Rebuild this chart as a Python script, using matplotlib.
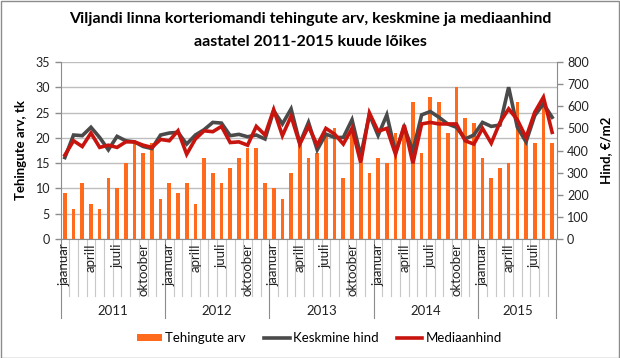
import matplotlib
matplotlib.use("Agg")
import matplotlib.pyplot as plt
from matplotlib.patches import Rectangle
from matplotlib.lines import Line2D
from matplotlib.patches import Patch
import numpy as np

plt.rcParams['font.family'] = ['Lato', 'DejaVu Sans']

years = ["2011", "2012", "2013", "2014", "2015"]
months_per_year = [12, 12, 12, 12, 9]
month_labels = {0: "jaanuar", 3: "aprill", 6: "juuli", 9: "oktoober"}

tehingud = [9, 6, 11, 7, 6, 12, 10, 15, 19, 17, 19, 8,
            11, 9, 11, 7, 16, 13, 11, 14, 16, 18, 18, 11,
            10, 8, 13, 19, 16, 17, 21, 22, 12, 22, 15, 13,
            16, 15, 21, 21, 27, 17, 28, 27, 21, 30, 24, 23,
            16, 12, 14, 15, 27, 20, 19, 27, 19]

keskmine = [368, 470, 467, 505, 459, 403, 464, 444, 439, 418, 409, 470,
            479, 482, 429, 470, 494, 527, 524, 467, 473, 462, 470, 452,
            580, 520, 588, 433, 527, 403, 474, 459, 459, 539, 376, 562,
            468, 561, 391, 505, 398, 561, 576, 550, 520, 505, 452, 470,
            527, 509, 515, 686, 505, 439, 558, 611, 550]

mediaan = [379, 444, 418, 479, 414, 424, 414, 439, 439, 424, 414, 450,
           444, 489, 383, 452, 489, 485, 509, 436, 439, 424, 509, 470,
           585, 467, 555, 429, 509, 424, 500, 474, 429, 500, 345, 570,
           487, 500, 383, 515, 342, 520, 527, 520, 520, 520, 444, 429,
           500, 433, 527, 588, 539, 459, 573, 641, 482]

n = len(tehingud)
x = np.arange(n)

W, H = 620, 358
fig = plt.figure(figsize=(W / 100, H / 100), dpi=100)
fig.patch.set_facecolor('white')
fig.add_artist(Rectangle((0.5 / W, 0.5 / H), 1 - 1.5 / W, 1 - 1.5 / H, transform=fig.transFigure,
                         fill=False, edgecolor='#8c8c8c', lw=1.0))

left, right, top, bottom = 60.5, 556.5, 62, 239
ax = fig.add_axes([left / W, 1 - bottom / H, (right - left) / W, (bottom - top) / H])
ax2 = ax.twinx()

bar_color = '#FF6A1C'
gray = '#4A4A4A'
red = '#C8140E'
axis_col = '#8C8C8C'
grid_col = '#BEBEBE'

ax.bar(x, tehingud, width=0.42, color=bar_color, zorder=2)
ax.set_ylim(0, 35)
ax.set_yticks(np.arange(0, 36, 5))
ax.set_xlim(-0.5, n - 0.5)
ax.yaxis.grid(True, color=grid_col, lw=1.0, zorder=0)
ax.set_axisbelow(True)

ax2.plot(x, keskmine, color=gray, lw=2.6, solid_joinstyle='miter', zorder=3)
ax2.plot(x, mediaan, color=red, lw=2.6, solid_joinstyle='miter', zorder=4)
ax2.set_ylim(0, 800)
ax2.set_yticks(np.arange(0, 801, 100))

for a in (ax, ax2):
    for s in a.spines.values():
        s.set_visible(False)
    a.tick_params(axis='y', colors=axis_col, labelcolor='#222222', labelsize=9, length=4, width=1)
ax.spines['left'].set_visible(True)
ax.spines['left'].set_color(axis_col)
ax2.spines['right'].set_visible(True)
ax2.spines['right'].set_color(axis_col)
ax.spines['bottom'].set_visible(True)
ax.spines['bottom'].set_color(axis_col)

ax.set_xticks([])
ax.set_ylabel("Tehingute arv, tk", fontsize=9.5, fontweight='bold', labelpad=6)
ax2.set_ylabel("Hind, €/m2", fontsize=9.5, fontweight='bold', labelpad=8)

trans = ax.get_xaxis_transform()
ph = bottom - top
m_end = -(296 - bottom) / ph
y_end = -(318 - bottom) / ph
ylab = -(311 - bottom) / ph
mlab_top = -(243 - bottom) / ph

idx = 0
starts = []
for yi, cnt in enumerate(months_per_year):
    starts.append(idx)
    for m in range(cnt):
        xi = idx + m
        if m in month_labels:
            ax.text(xi, mlab_top, month_labels[m], transform=trans, rotation=90,
                    ha='center', va='top', fontsize=9.5, color='#222222', clip_on=False)
        if m > 0:
            ax.plot([xi - 0.5, xi - 0.5], [0, m_end], transform=trans, color='#C8C8C8',
                    lw=0.8, clip_on=False)
    idx += cnt
starts.append(idx)
for s in starts:
    ax.plot([s - 0.5, s - 0.5], [0, y_end], transform=trans, color=axis_col, lw=0.8, clip_on=False)
for yi, yr in enumerate(years):
    c = (starts[yi] + starts[yi + 1] - 1) / 2
    ax.text(c, ylab, yr, transform=trans, ha='center', va='center', fontsize=9.5, color='#222222')

fig.text(0.5, 1 - 19 / H, "Viljandi linna korteriomandi tehingute arv, keskmine ja mediaanhind",
         ha='center', va='center', fontsize=11.5, fontweight='bold')
fig.text(0.5, 1 - 42 / H, "aastatel 2011-2015 kuude lõikes",
         ha='center', va='center', fontsize=11.5, fontweight='bold')

handles = [Patch(facecolor=bar_color, edgecolor='none'),
           Line2D([0], [0], color=gray, lw=2.6),
           Line2D([0], [0], color=red, lw=2.6)]
fig.legend(handles, ["Tehingute arv", "Keskmine hind", "Mediaanhind"], ncol=3,
           loc='center', bbox_to_anchor=(0.515, 1 - 338 / H), frameon=False, fontsize=9.5,
           handlelength=1.9, handleheight=0.5, columnspacing=1.4, handletextpad=0.25)

fig.savefig("out.png", dpi=100)
